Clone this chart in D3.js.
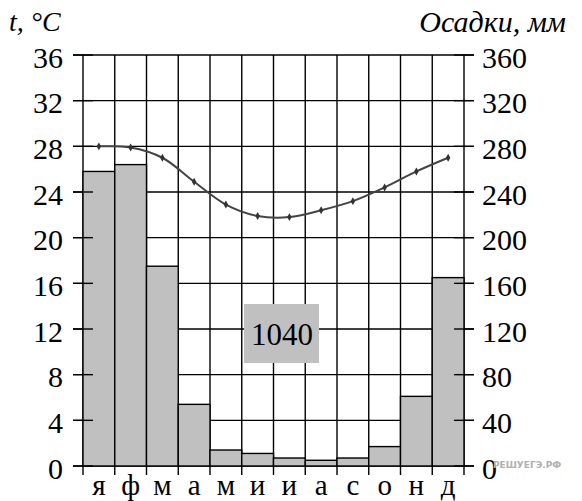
<html>
<head>
    <script src="https://d3js.org/d3.v7.min.js"></script>
    <style>
        body { margin: 0; background: #fff; }
        text { font-family: "Liberation Serif", serif; fill: #000; }
    </style>
</head>
<body>
    <script>
        // data
        var months = ['я', 'ф', 'м', 'а', 'м', 'и', 'и', 'а', 'с', 'о', 'н', 'д'];
        var temperature = [28.0, 27.9, 27.0, 24.9, 22.9, 21.9, 21.8, 22.4, 23.2, 24.4, 25.8, 27.0];
        var precipitation = [258, 264, 175, 54, 14, 11, 7, 5, 7, 17, 61, 165];
        var tempTicks = [0, 4, 8, 12, 16, 20, 24, 28, 32, 36];
        var precTicks = [0, 40, 80, 120, 160, 200, 240, 280, 320, 360];
        var total = '1040';

        var width = 582,
            height = 501;

        var svg = d3.select('body')
            .append('svg')
            .attr('width', width)
            .attr('height', height);

        // plot edges (note: "top" is taken by window.top)
        var pLeft = 83, pRight = 464, pTop = 55, pBottom = 466;

        var x = d3.scaleBand()
            .domain(d3.range(months.length))
            .range([pLeft, pRight]);

        var yT = d3.scaleLinear().domain([0, 36]).range([pBottom, pTop]);
        var yP = d3.scaleLinear().domain([0, 360]).range([pBottom, pTop]);

        // horizontal grid lines (under the bars)
        svg.append('g').selectAll('line')
            .data(tempTicks)
            .enter()
            .append('line')
            .attr('x1', pLeft - 10)
            .attr('x2', pRight + 10)
            .attr('y1', d => yT(d))
            .attr('y2', d => yT(d))
            .attr('stroke', '#000')
            .attr('stroke-width', 1.4);

        // vertical lines at month boundaries, with small ticks below the base
        var edges = d3.range(months.length + 1).map(i => i < months.length ? x(i) : pRight);
        svg.append('g').selectAll('line')
            .data(edges)
            .enter()
            .append('line')
            .attr('x1', d => d)
            .attr('x2', d => d)
            .attr('y1', pTop)
            .attr('y2', pBottom + 9)
            .attr('stroke', '#000')
            .attr('stroke-width', 1.4);

        // precipitation bars
        svg.append('g').selectAll('rect')
            .data(precipitation)
            .enter()
            .append('rect')
            .attr('x', (d, i) => x(i))
            .attr('y', d => yP(d))
            .attr('width', x.bandwidth())
            .attr('height', d => pBottom - yP(d))
            .attr('fill', '#c0c0c0')
            .attr('stroke', '#000')
            .attr('stroke-width', 1.4);

        // ticks crossing the side axes, drawn over the bars
        svg.append('g').selectAll('line')
            .data(tempTicks)
            .enter()
            .append('line')
            .attr('x1', pLeft - 10)
            .attr('x2', pLeft + 10)
            .attr('y1', d => yT(d))
            .attr('y2', d => yT(d))
            .attr('stroke', '#000')
            .attr('stroke-width', 1.4);
        svg.append('g').selectAll('line')
            .data(precTicks)
            .enter()
            .append('line')
            .attr('x1', pRight - 10)
            .attr('x2', pRight + 10)
            .attr('y1', d => yP(d))
            .attr('y2', d => yP(d))
            .attr('stroke', '#000')
            .attr('stroke-width', 1.4);

        // axes labels
        var axL = svg.append('g')
            .attr('transform', 'translate(' + (pLeft - 10) + ',0)')
            .call(d3.axisLeft(yT).tickValues(tempTicks).tickSize(0).tickPadding(10));
        var axR = svg.append('g')
            .attr('transform', 'translate(' + (pRight + 10) + ',0)')
            .call(d3.axisRight(yP).tickValues(precTicks).tickSize(0).tickPadding(8));
        [axL, axR].forEach(function (a) {
            a.attr('font-family', null).attr('font-size', null);
            a.select('.domain').remove();
            a.selectAll('text')
                .attr('dy', '0.4em')
                .style('font-family', '"Liberation Serif", serif')
                .style('font-size', '30px')
                .attr('fill', '#000');
        });

        var axB = svg.append('g')
            .attr('transform', 'translate(0,' + pBottom + ')')
            .call(d3.axisBottom(x).tickFormat(i => months[i]).tickSize(0));
        axB.attr('font-family', null).attr('font-size', null);
        axB.select('.domain').remove();
        axB.selectAll('text')
            .attr('dy', null)
            .attr('y', 29)
            .style('font-family', '"Liberation Serif", serif')
            .style('font-size', '29px')
            .attr('fill', '#000');

        // temperature curve
        var line = d3.line()
            .x((d, i) => x(i) + x.bandwidth() / 2)
            .y(d => yT(d))
            .curve(d3.curveCatmullRom);

        svg.append('path')
            .datum(temperature)
            .attr('d', line)
            .attr('fill', 'none')
            .attr('stroke', '#444')
            .attr('stroke-width', 2);

        svg.append('g').selectAll('path')
            .data(temperature)
            .enter()
            .append('path')
            .attr('d', d3.symbol().type(d3.symbolDiamond).size(18))
            .attr('transform', (d, i) => 'translate(' + (x(i) + x.bandwidth() / 2) + ',' + yT(d) + ')')
            .attr('fill', '#333');

        // total precipitation box
        var box = svg.append('g').attr('transform', 'translate(244,304)');
        box.append('rect')
            .attr('width', 75)
            .attr('height', 59)
            .attr('fill', '#c0c0c0');
        box.append('text')
            .attr('x', 38)
            .attr('y', 41)
            .attr('text-anchor', 'middle')
            .style('font-size', '31px')
            .text(total);

        // titles
        svg.append('text')
            .attr('x', 9)
            .attr('y', 31)
            .attr('font-style', 'italic')
            .style('font-size', '28px')
            .text('t, °C');
        svg.append('text')
            .attr('x', 566)
            .attr('y', 32)
            .attr('text-anchor', 'end')
            .attr('font-style', 'italic')
            .style('font-size', '30px')
            .text('Осадки, мм');

        // watermark
        svg.append('text')
            .attr('x', 493)
            .attr('y', 468)
            .style('font-family', '"DejaVu Sans", sans-serif')
            .style('font-size', '9px')
            .attr('font-weight', 'bold')
            .style('fill', '#b0b0b0')
            .text('РЕШУЕГЭ.РФ');
    </script>
</body>
</html>
